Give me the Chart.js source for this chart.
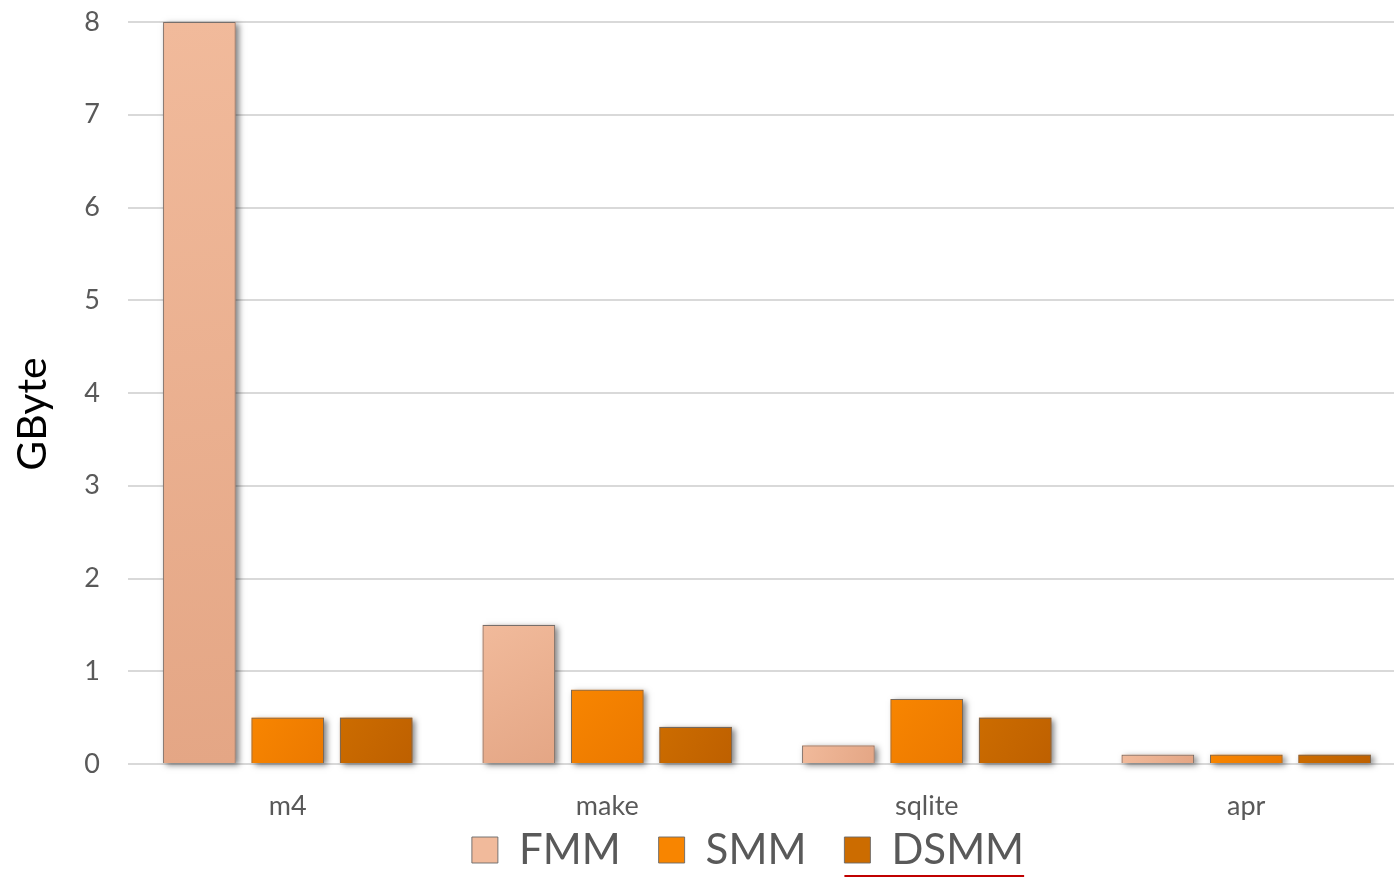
<!DOCTYPE html>
<html>
<head>
<meta charset="utf-8">
<script src="https://cdn.jsdelivr.net/npm/chart.js@4.4.1/dist/chart.umd.min.js"></script>
<style>
  html, body { margin: 0; padding: 0; background: #ffffff; overflow: hidden; }
  #wrap { position: relative; width: 1406px; height: 878px; }
</style>
</head>
<body>
<div id="wrap"><canvas id="chart"></canvas></div>
<script>
// Memory footprint per benchmark
const categories = ['m4', 'make', 'sqlite', 'apr'];
const seriesNames = ['FMM', 'SMM', 'DSMM'];
const fmmValues = [8, 1.5, 0.2, 0.1];
const smmValues = [0.5, 0.8, 0.7, 0.1];
const dsmmValues = [0.5, 0.4, 0.5, 0.1];
const yTicks = [0, 1, 2, 3, 4, 5, 6, 7, 8];

const FONT = 'Lato, "Open Sans", sans-serif';
const TEXT_GREY = '#595959';
const EDGE = 'rgba(105,105,105,0.9)';

// light-to-dark diagonal fill for each bar
const shades = [
  ['#F1BA9B', '#E4A685'],
  ['#F88500', '#EB7900'],
  ['#CC6C00', '#BE6000']
];
function barFill(idx) {
  return function (ctx) {
    const el = ctx.element;
    const c = ctx.chart.ctx;
    if (!el || !isFinite(el.x) || !isFinite(el.y) || !isFinite(el.base)) return shades[idx][0];
    const w = el.width || 70;
    const g = c.createLinearGradient(el.x - w / 2, el.y, el.x + w / 2, el.base);
    g.addColorStop(0, shades[idx][0]);
    g.addColorStop(1, shades[idx][1]);
    return g;
  };
}

// soft drop shadow behind every bar of a dataset
const barShadow = {
  id: 'barShadow',
  beforeDatasetDraw(chart, args) {
    const c = chart.ctx;
    const i = args.index;
    c.save();
    c.shadowColor = 'rgba(0,0,0,0.5)';
    c.shadowBlur = 6;
    c.shadowOffsetX = 3;
    c.shadowOffsetY = 2;
    c.fillStyle = shades[i][1];
    args.meta.data.forEach(el => {
      const p = el.getProps(['x', 'y', 'base', 'width'], true);
      c.fillRect(p.x - p.width / 2, p.y, p.width, p.base - p.y);
    });
    c.restore();
  }
};

// centre the legend row under the plot area rather than the whole canvas
const legendShift = {
  id: 'legendShift',
  afterLayout(chart) {
    const lg = chart.legend;
    if (lg) { lg.left += 45; lg.right += 45; }
  }
};

// red underline beneath the last legend entry
const legendUnderline = {
  id: 'legendUnderline',
  afterDraw(chart) {
    const boxes = chart.legend && chart.legend.legendHitBoxes;
    if (!boxes || !boxes[2]) return;
    const hb = boxes[2];
    const c = chart.ctx;
    c.save();
    c.strokeStyle = '#C00000';
    c.lineWidth = 2;
    c.beginPath();
    c.moveTo(hb.left, 876);
    c.lineTo(hb.left + hb.width, 876);
    c.stroke();
    c.restore();
  }
};

const values = [fmmValues, smmValues, dsmmValues];
const datasets = seriesNames.map((name, i) => ({
  label: name,
  data: values[i],
  backgroundColor: barFill(i),
  borderColor: EDGE,
  borderWidth: 1,
  categoryPercentage: 0.83,
  barPercentage: 0.82
}));

const chart = new Chart(document.getElementById('chart'), {
  type: 'bar',
  data: { labels: categories, datasets },
  plugins: [barShadow, legendShift, legendUnderline],
  options: {
    responsive: true,
    maintainAspectRatio: false,
    animation: false,
    layout: { padding: { top: 22, right: 0, left: 0, bottom: -3 } },
    plugins: {
      tooltip: { enabled: false },
      legend: {
        position: 'bottom',
        labels: {
          color: TEXT_GREY,
          font: { family: FONT, size: 42 },
          boxWidth: 26,
          boxHeight: 26,
          padding: 38,
          generateLabels(chart) {
            return chart.data.datasets.map((ds, i) => ({
              text: ds.label,
              fillStyle: shades[i][0],
              strokeStyle: EDGE,
              lineWidth: 1,
              fontColor: TEXT_GREY,
              datasetIndex: i,
              hidden: false
            }));
          }
        }
      }
    },
    scales: {
      x: {
        afterFit(scale) {
          scale.height = 27;
          // labels sit below this short band, so don't clip them to it
          scale._computeLabelArea = () => undefined;
        },
        grid: { display: false, drawTicks: false },
        border: { display: false },
        ticks: { color: TEXT_GREY, font: { family: FONT, size: 27 }, padding: 26 }
      },
      y: {
        min: 0,
        max: 8,
        afterBuildTicks(scale) { scale.ticks = yTicks.map(v => ({ value: v })); },
        afterFit(scale) {
          scale.width = 128;
          scale.paddingTop = 0;
          scale.paddingBottom = 0;
        },
        grid: { color: '#D9D9D9', lineWidth: 2, drawTicks: false },
        border: { display: false },
        ticks: { color: TEXT_GREY, font: { family: FONT, size: 27 }, padding: 28 },
        title: {
          display: true,
          text: 'GByte    ',
          color: '#000000',
          font: { family: FONT, size: 41 },
          padding: { top: 8, bottom: 0 }
        }
      }
    }
  }
});
// second pass so the gradients see final bar geometry
chart.update('none');
</script>
</body>
</html>
